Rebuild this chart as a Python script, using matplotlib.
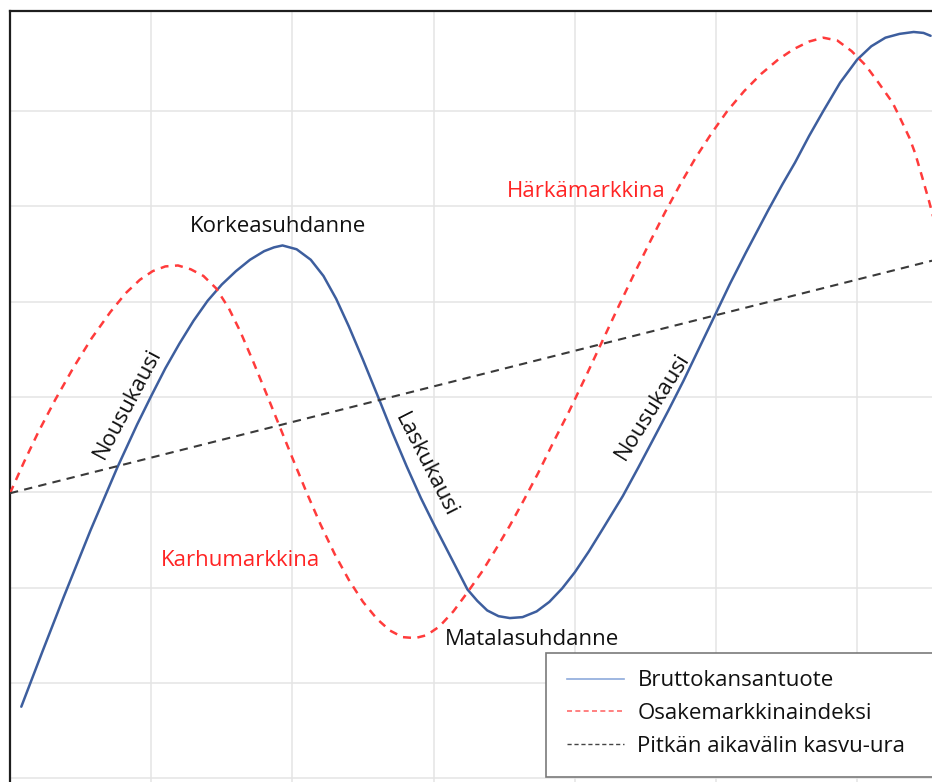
import matplotlib
matplotlib.use("Agg")
import matplotlib.pyplot as plt
from matplotlib.patches import Rectangle

plt.rcParams['font.family'] = ['Open Sans', 'DejaVu Sans']

# Bruttokansantuote (time in periods, level in index units)
bkt_t = [0.08, 0.23, 0.38, 0.57, 0.76, 0.90, 1.00, 1.10, 1.20, 1.30, 1.40, 1.50,
         1.60, 1.70, 1.80, 1.87, 1.93, 2.03, 2.13, 2.22, 2.31, 2.40, 2.50, 2.61,
         2.71, 2.81, 2.91, 3.00, 3.08, 3.16, 3.24, 3.31, 3.38, 3.46, 3.54, 3.63,
         3.73, 3.82, 3.91, 4.00, 4.10, 4.20, 4.34, 4.45, 4.55, 4.66, 4.77, 4.88,
         5.00, 5.10, 5.21, 5.37, 5.47, 5.56, 5.66, 5.76, 5.88, 6.00, 6.10, 6.20,
         6.30, 6.40, 6.47, 6.52]
bkt = [0.75, 1.33, 1.90, 2.60, 3.26, 3.71, 4.01, 4.30, 4.56, 4.80, 5.01, 5.18,
       5.32, 5.44, 5.53, 5.57, 5.59, 5.55, 5.44, 5.27, 5.03, 4.74, 4.39, 3.99,
       3.62, 3.27, 2.94, 2.67, 2.44, 2.21, 1.98, 1.86, 1.76, 1.70, 1.68, 1.69,
       1.75, 1.85, 1.99, 2.16, 2.38, 2.62, 2.96, 3.26, 3.54, 3.85, 4.17, 4.51,
       4.88, 5.19, 5.51, 5.96, 6.23, 6.46, 6.74, 7.00, 7.30, 7.54, 7.68, 7.77,
       7.81, 7.83, 7.82, 7.79]

# Osakemarkkinaindeksi
osake_t = [0.00, 0.10, 0.20, 0.32, 0.45, 0.58, 0.71, 0.82, 0.92, 1.01, 1.10, 1.19,
           1.28, 1.37, 1.46, 1.55, 1.63, 1.72, 1.82, 1.91, 2.00, 2.10, 2.20, 2.30,
           2.40, 2.50, 2.60, 2.69, 2.78, 2.87, 2.95, 3.04, 3.14, 3.24, 3.34, 3.44,
           3.54, 3.64, 3.74, 3.85, 3.96, 4.07, 4.19, 4.31, 4.42, 4.53, 4.64, 4.75,
           4.86, 4.97, 5.08, 5.20, 5.32, 5.44, 5.55, 5.66, 5.76, 5.86, 5.96, 6.06,
           6.15, 6.25, 6.30, 6.37, 6.41, 6.46, 6.51, 6.54]
osake = [2.99, 3.32, 3.63, 3.97, 4.31, 4.62, 4.89, 5.09, 5.23, 5.32, 5.37, 5.38,
         5.34, 5.27, 5.14, 4.93, 4.69, 4.38, 4.02, 3.69, 3.36, 3.00, 2.66, 2.35,
         2.08, 1.85, 1.67, 1.55, 1.48, 1.47, 1.50, 1.59, 1.75, 1.95, 2.16, 2.40,
         2.65, 2.92, 3.20, 3.53, 3.85, 4.19, 4.57, 4.95, 5.29, 5.62, 5.94, 6.24,
         6.52, 6.77, 7.00, 7.21, 7.39, 7.54, 7.65, 7.73, 7.77, 7.74, 7.63, 7.48,
         7.30, 7.09, 6.94, 6.72, 6.56, 6.31, 6.05, 5.88]

# Pitkän aikavälin kasvu-ura
trend_t = [0.00, 6.53]
trend = [2.99, 5.43]

labels = ['Bruttokansantuote', 'Osakemarkkinaindeksi', 'Pitkän aikavälin kasvu-ura']

fig = plt.figure(figsize=(9.32, 7.82), dpi=100)
ax = fig.add_axes([10 / 932, -0.0073, 946 / 932, 0.99322])
ax.set_xlim(0, 6.7)
ax.set_ylim(-0.1, 8.05)

ax.set_xticks(range(0, 7))
ax.set_yticks(range(0, 8))
ax.grid(True, color='#e4e4e4', linewidth=1.1)
ax.set_axisbelow(True)
ax.tick_params(length=0, labelleft=False, labelbottom=False)
for side in ['right', 'bottom']:
    ax.spines[side].set_visible(False)
for side in ['left', 'top']:
    ax.spines[side].set_color('#1e1e1e')
    ax.spines[side].set_linewidth(1.6)

ax.plot(bkt_t, bkt, color='#3d5e9e', linewidth=1.8, solid_joinstyle='round',
        solid_capstyle='round', zorder=3)
ax.plot(osake_t, osake, color='#ff3b3b', linewidth=1.8, linestyle=(0, (3.2, 2.6)),
        dash_joinstyle='round', zorder=3)
ax.plot(trend_t, trend, color='#3a3a3a', linewidth=1.5, linestyle=(0, (4, 3)), zorder=3)

fs = 16
ax.text(1.90, 5.79, 'Korkeasuhdanne', fontsize=fs, ha='center', va='center', color='#111111')
ax.text(3.70, 1.45, 'Matalasuhdanne', fontsize=fs, ha='center', va='center', color='#111111')
ax.text(0.83, 3.93, 'Nousukausi', fontsize=fs, ha='center', va='center', rotation=62,
        color='#111111')
ax.text(2.94, 3.28, 'Laskukausi', fontsize=fs, ha='center', va='center', rotation=-63,
        color='#111111')
ax.text(4.55, 3.90, 'Nousukausi', fontsize=fs, ha='center', va='center', rotation=58,
        color='#111111')
ax.text(4.08, 6.16, 'Härkämarkkina', fontsize=fs, ha='center', va='center', color='#ff2424')
ax.text(1.63, 2.28, 'Karhumarkkina', fontsize=fs, ha='center', va='center', color='#ff2424')

# legend box
ax.add_patch(Rectangle((0.5666, 0.0138), 0.45, 0.1596, transform=ax.transAxes,
                       facecolor='white', edgecolor='#7a7a7a', linewidth=1.2,
                       zorder=5, clip_on=False))
handles = [
    plt.Line2D([], [], color='#8eaadb', linewidth=1.2),
    plt.Line2D([], [], color='#ff6b6b', linewidth=1.2, linestyle=(0, (3, 2))),
    plt.Line2D([], [], color='#444444', linewidth=1.0, linestyle=(0, (3, 2))),
]
leg = ax.legend(handles, labels, loc='upper left', bbox_to_anchor=(0.5888, 0.1510),
                frameon=False, fontsize=fs, borderpad=0, borderaxespad=0,
                handlelength=2.55, handletextpad=0.62, labelspacing=0.53)
leg.set_zorder(6)
for t in leg.get_texts():
    t.set_color('#111111')

fig.savefig('out.png', dpi=100)
